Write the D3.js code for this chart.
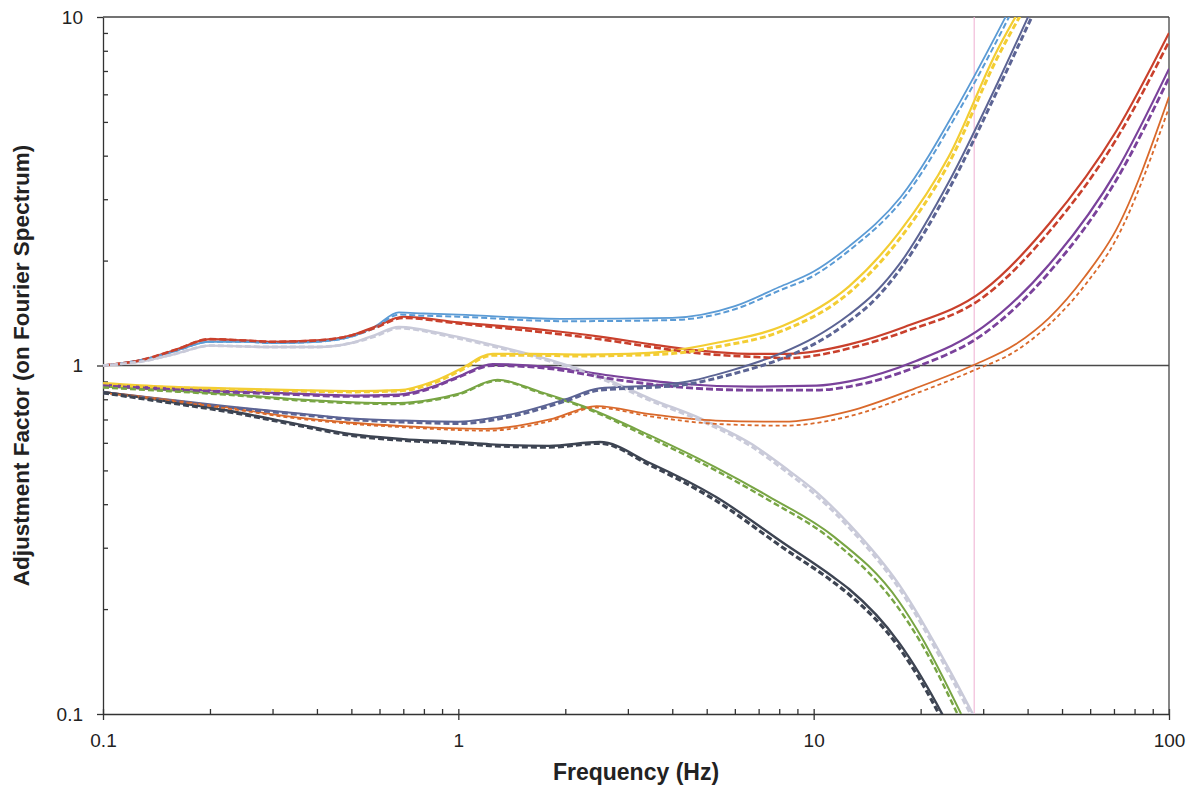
<!DOCTYPE html>
<html>
<head>
<meta charset="utf-8">
<script src="https://cdn.jsdelivr.net/npm/d3@7"></script>
<style>
  body { margin: 0; background: #fff; }
  svg text { font-family: "Liberation Sans", Arial, sans-serif; fill: #222; }
</style>
</head>
<body>
<svg id="chart" width="1198" height="791"></svg>
<script>
// frequency (Hz) / adjustment factor pairs
const blueSolid = [[0.1,1.0],[0.13,1.04],[0.16,1.10],[0.2,1.17],[0.25,1.17],[0.3,1.16],[0.4,1.17],[0.5,1.21],[0.58,1.29],[0.68,1.42],[0.8,1.41],[1,1.40],[2,1.36],[4,1.37],[6,1.48],[8,1.68],[10,1.86],[12.6,2.2],[17.6,3.05],[25.8,5.7],[35.2,10.3]];
const blueDashed = [[0.1,1.0],[0.13,1.04],[0.16,1.10],[0.2,1.17],[0.25,1.17],[0.3,1.16],[0.4,1.17],[0.5,1.21],[0.58,1.28],[0.68,1.40],[0.8,1.39],[1,1.38],[2,1.34],[4,1.35],[6,1.45],[8,1.64],[10,1.81],[12.6,2.14],[17.6,2.95],[25.8,5.45],[36,10.3]];
const redSolid = [[0.1,1.0],[0.13,1.04],[0.16,1.11],[0.2,1.19],[0.25,1.18],[0.3,1.17],[0.4,1.18],[0.5,1.22],[0.58,1.29],[0.7,1.38],[1,1.33],[1.8,1.26],[2.5,1.21],[3.5,1.15],[4.5,1.11],[6.6,1.08],[8.5,1.08],[10.2,1.1],[12.6,1.15],[18,1.29],[30,1.64],[46,2.55],[71,4.7],[100,9.0]];
const redDashed = [[0.1,1.0],[0.13,1.04],[0.16,1.11],[0.2,1.19],[0.25,1.18],[0.3,1.17],[0.4,1.18],[0.5,1.22],[0.58,1.28],[0.7,1.37],[1,1.32],[1.8,1.24],[2.5,1.19],[3.5,1.13],[4.5,1.09],[6.6,1.06],[8.5,1.05],[10.2,1.07],[12.6,1.12],[18,1.25],[30,1.57],[46,2.42],[71,4.45],[100,8.5]];
const greySolid = [[0.1,1.0],[0.13,1.03],[0.16,1.08],[0.2,1.14],[0.3,1.13],[0.4,1.13],[0.5,1.16],[0.58,1.22],[0.68,1.29],[0.95,1.22],[1.23,1.15],[1.8,1.04],[2.5,0.93],[3.5,0.80],[4.8,0.705],[6.6,0.60],[8.5,0.50],[10,0.44],[12.6,0.35],[17.4,0.235],[24,0.135],[28.5,0.097]];
const greyDashed = [[0.1,1.0],[0.13,1.03],[0.16,1.08],[0.2,1.14],[0.3,1.13],[0.4,1.13],[0.5,1.16],[0.58,1.21],[0.68,1.28],[0.95,1.21],[1.23,1.14],[1.8,1.03],[2.5,0.92],[3.5,0.79],[4.8,0.695],[6.6,0.59],[8.5,0.49],[10,0.43],[12.6,0.342],[17.4,0.229],[24,0.131],[28.5,0.094]];
const yellowSolid = [[0.1,0.89],[0.15,0.87],[0.22,0.86],[0.35,0.85],[0.5,0.845],[0.68,0.85],[0.85,0.9],[1.0,0.97],[1.25,1.08],[1.6,1.08],[2.2,1.075],[3.0,1.08],[3.9,1.10],[5.3,1.16],[8.2,1.30],[12.6,1.69],[17.4,2.41],[24,3.98],[33,8.1],[38,10.5]];
const yellowDashed = [[0.1,0.88],[0.15,0.865],[0.22,0.855],[0.35,0.845],[0.5,0.84],[0.68,0.845],[0.85,0.89],[1.0,0.96],[1.25,1.07],[1.6,1.07],[2.2,1.065],[3.0,1.07],[3.9,1.08],[5.3,1.13],[8.2,1.26],[12.6,1.62],[17.4,2.3],[24,3.8],[33,7.7],[39,10.5]];
const purpleSolid = [[0.1,0.88],[0.15,0.86],[0.22,0.845],[0.35,0.83],[0.5,0.82],[0.68,0.825],[0.85,0.87],[1.0,0.93],[1.25,1.01],[1.8,0.99],[2.8,0.93],[4.3,0.885],[6.6,0.87],[10.2,0.875],[12.6,0.9],[19.4,1.03],[30,1.29],[46,1.95],[71,3.6],[100,7.1]];
const purpleDashed = [[0.1,0.875],[0.15,0.855],[0.22,0.84],[0.35,0.825],[0.5,0.815],[0.68,0.82],[0.85,0.865],[1.0,0.925],[1.25,1.0],[1.8,0.98],[2.8,0.91],[4.3,0.865],[6.6,0.85],[10.2,0.85],[12.6,0.87],[19.4,0.99],[30,1.23],[46,1.85],[71,3.4],[100,6.7]];
const greenSolid = [[0.1,0.87],[0.15,0.85],[0.22,0.83],[0.35,0.80],[0.5,0.785],[0.68,0.78],[0.85,0.80],[1.0,0.83],[1.29,0.91],[1.7,0.84],[2.24,0.765],[3.46,0.63],[5.3,0.51],[7.5,0.42],[11.3,0.325],[17.4,0.21],[20.2,0.165],[26,0.1]];
const greenDashed = [[0.1,0.865],[0.15,0.845],[0.22,0.825],[0.35,0.795],[0.5,0.78],[0.68,0.775],[0.85,0.795],[1.0,0.825],[1.29,0.905],[1.7,0.835],[2.24,0.76],[3.46,0.62],[5.3,0.50],[7.5,0.41],[11.3,0.315],[17.4,0.2],[20.2,0.158],[26,0.095]];
const slateSolid = [[0.1,0.84],[0.15,0.8],[0.22,0.765],[0.35,0.73],[0.5,0.705],[0.7,0.695],[1.0,0.69],[1.46,0.73],[2.0,0.80],[2.5,0.86],[3.46,0.875],[4.3,0.895],[5.9,0.97],[8.2,1.09],[10,1.2],[12.6,1.4],[15,1.63],[17.6,1.98],[24,3.36],[33,6.5],[41,10.5]];
const slateDashed = [[0.1,0.835],[0.15,0.795],[0.22,0.76],[0.35,0.725],[0.5,0.7],[0.7,0.688],[1.0,0.682],[1.46,0.72],[2.0,0.79],[2.5,0.85],[3.46,0.865],[4.3,0.88],[5.9,0.945],[8.2,1.05],[10,1.15],[12.6,1.34],[15,1.56],[17.6,1.9],[24,3.2],[33,6.2],[42,10.5]];
const orangeSolid = [[0.1,0.84],[0.15,0.8],[0.22,0.76],[0.35,0.71],[0.5,0.685],[0.7,0.67],[1.0,0.66],[1.2,0.658],[1.81,0.70],[2.45,0.765],[3.46,0.725],[5.3,0.695],[8.2,0.69],[12.6,0.74],[19.3,0.86],[28,1.0],[37,1.15],[46,1.37],[58,1.8],[71,2.45],[100,5.9]];
const orangeDashed = [[0.1,0.835],[0.15,0.795],[0.22,0.755],[0.35,0.705],[0.5,0.68],[0.7,0.665],[1.0,0.653],[1.2,0.65],[1.81,0.692],[2.45,0.757],[3.46,0.715],[5.3,0.68],[8.2,0.672],[12.6,0.715],[19.3,0.83],[28,0.965],[37,1.1],[46,1.31],[58,1.7],[71,2.3],[100,5.5]];
const navySolid = [[0.1,0.84],[0.15,0.79],[0.22,0.745],[0.35,0.68],[0.5,0.635],[0.7,0.615],[1.0,0.603],[1.23,0.594],[1.8,0.588],[2.5,0.603],[3.46,0.525],[5.3,0.42],[8.2,0.31],[11.3,0.248],[12.6,0.228],[17.4,0.16],[23,0.1],[24,0.092]];
const navyDashed = [[0.1,0.835],[0.15,0.785],[0.22,0.74],[0.35,0.675],[0.5,0.63],[0.7,0.61],[1.0,0.598],[1.23,0.589],[1.8,0.583],[2.5,0.598],[3.46,0.518],[5.3,0.41],[8.2,0.3],[11.3,0.24],[12.6,0.22],[17.4,0.155],[23,0.096],[24,0.088]];

const seriesColors = ['#5b9bd5', '#c9402c', '#c9cad9', '#f3cd33', '#7a429b', '#78a544', '#5c6494', '#d9692b', '#3d4452'];
const solidSeries = [blueSolid, redSolid, greySolid, yellowSolid, purpleSolid, greenSolid, slateSolid, orangeSolid, navySolid];
const dashedSeries = [blueDashed, redDashed, greyDashed, yellowDashed, purpleDashed, greenDashed, slateDashed, orangeDashed, navyDashed];

const referenceLevel = [1];
const markerFreq = [28.3];
const xMajorTicks = [0.1, 1, 10, 100];
const yMajorTicks = [0.1, 1, 10];

const margin = { top: 17, right: 29, bottom: 77, left: 103 };
const width = 1198 - margin.left - margin.right;
const height = 791 - margin.top - margin.bottom;

const svg = d3.select('#chart');
const g = svg.append('g').attr('transform', `translate(${margin.left},${margin.top})`);

const x = d3.scaleLog().domain([0.1, 100]).range([0, width]);
const y = d3.scaleLog().domain([0.1, 10]).range([height, 0]);

svg.append('defs').append('clipPath').attr('id', 'plot-clip')
  .append('rect').attr('width', width).attr('height', height);

// minor ticks (inside)
const xMinor = x.ticks().filter(v => !xMajorTicks.includes(v));
const yMinor = y.ticks().filter(v => !yMajorTicks.includes(v));

g.append('g')
  .attr('transform', `translate(0,${height})`)
  .call(d3.axisBottom(x).tickValues(xMinor).tickSize(-5).tickFormat(''))
  .call(a => a.select('.domain').remove());
g.append('g')
  .call(d3.axisLeft(y).tickValues(yMinor).tickSize(-5).tickFormat(''))
  .call(a => a.select('.domain').remove());

// major ticks crossing the x axis
g.append('g')
  .attr('transform', `translate(0,${height})`)
  .call(d3.axisBottom(x).tickValues(xMajorTicks).tickSize(-5).tickFormat(''))
  .call(a => a.select('.domain').remove());

g.append('g')
  .attr('transform', `translate(0,${height})`)
  .call(d3.axisBottom(x).tickValues(xMajorTicks).tickSizeInner(6).tickSizeOuter(0)
    .tickPadding(14).tickFormat(d3.format('~g')));
g.append('g')
  .call(d3.axisLeft(y).tickValues(yMajorTicks).tickSizeInner(6).tickSizeOuter(0)
    .tickPadding(14).tickFormat(d3.format('~g')));

g.selectAll('.tick line, .domain').attr('stroke', '#333').attr('stroke-width', 1.3);
g.selectAll('.tick text').attr('font-size', 19).attr('fill', '#222')
  .attr('font-family', '"Liberation Sans", Arial, sans-serif');

// frame top / right
g.append('line').attr('x1', 0).attr('x2', width).attr('y1', 0).attr('y2', 0)
  .attr('stroke', '#444').attr('stroke-width', 1.3);
g.append('line').attr('x1', width).attr('x2', width).attr('y1', 0).attr('y2', height)
  .attr('stroke', '#444').attr('stroke-width', 1.3);

const plot = g.append('g').attr('clip-path', 'url(#plot-clip)');

plot.selectAll('.ref')
  .data(referenceLevel)
  .join('line')
  .attr('x1', 0).attr('x2', width)
  .attr('y1', d => y(d)).attr('y2', d => y(d))
  .attr('stroke', '#4a4a4a').attr('stroke-width', 1.5);

plot.selectAll('.marker')
  .data(markerFreq)
  .join('line')
  .attr('x1', d => x(d)).attr('x2', d => x(d))
  .attr('y1', 0).attr('y2', height)
  .attr('stroke', '#f2bcd9').attr('stroke-width', 1.2);

const line = d3.line()
  .x(d => x(d[0]))
  .y(d => y(d[1]))
  .curve(d3.curveMonotoneX);

const solidWidth = [1.8, 2.2, 2.4, 2.2, 2.2, 2, 2, 1.8, 2.4];
const dashedWidth = [2, 2.6, 2.8, 3, 2.8, 2.4, 3, 1.8, 3.2];
const dashPattern = ['6,3', '7,3', '6,3', '6,3', '7,3', '6,3', '6,3', '4,3', '6,3'];

solidSeries.forEach((s, i) => {
  plot.append('path')
    .attr('d', line(s))
    .attr('fill', 'none')
    .attr('stroke', seriesColors[i])
    .attr('stroke-width', solidWidth[i]);
});
dashedSeries.forEach((s, i) => {
  plot.append('path')
    .attr('d', line(s))
    .attr('fill', 'none')
    .attr('stroke', seriesColors[i])
    .attr('stroke-width', dashedWidth[i])
    .attr('stroke-dasharray', dashPattern[i]);
});

// axis titles
svg.append('text')
  .attr('x', margin.left + width / 2)
  .attr('y', 780)
  .attr('text-anchor', 'middle')
  .attr('font-size', 23)
  .attr('font-weight', 'bold')
  .text('Frequency (Hz)');

svg.append('text')
  .attr('transform', `translate(29,${margin.top + height / 2}) rotate(-90)`)
  .attr('text-anchor', 'middle')
  .attr('font-size', 22.5)
  .attr('font-weight', 'bold')
  .text('Adjustment Factor (on Fourier Spectrum)');
</script>
</body>
</html>
